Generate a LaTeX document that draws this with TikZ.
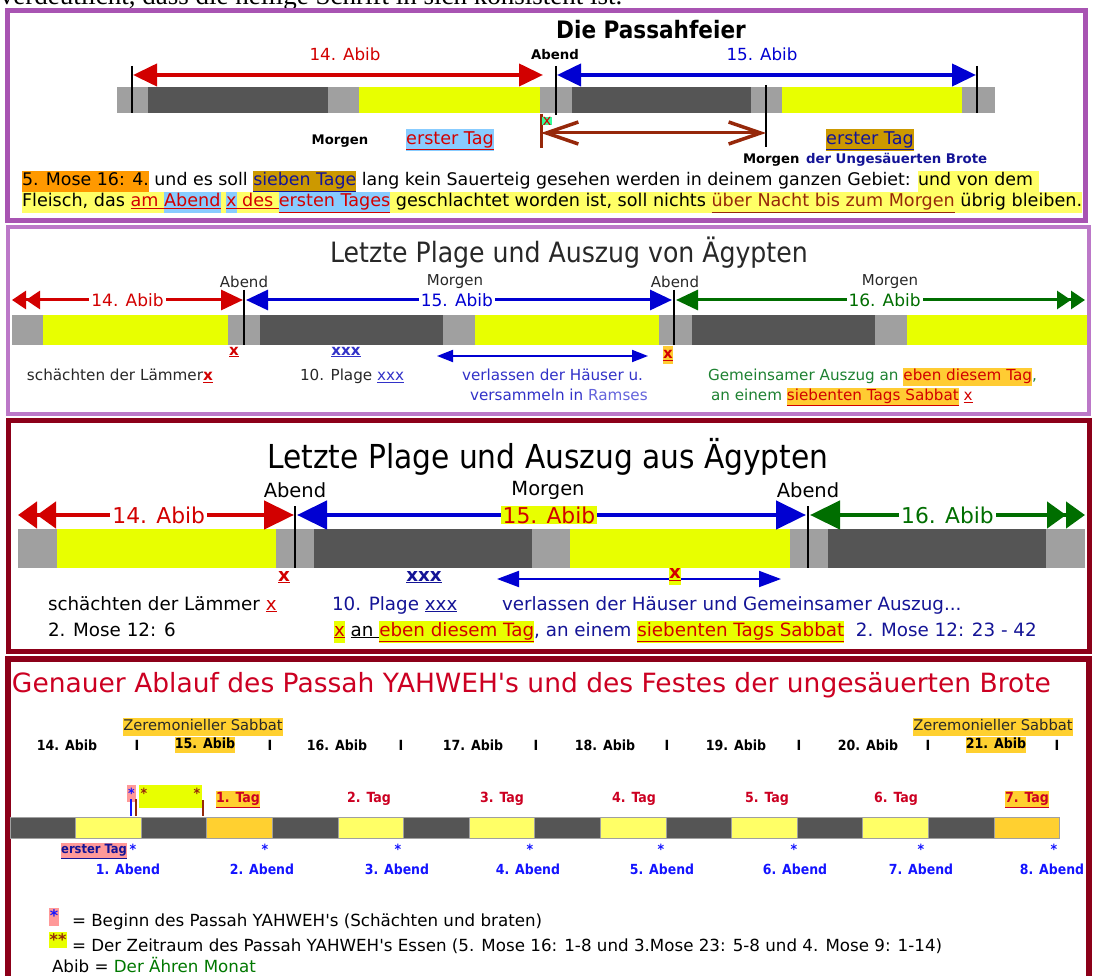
\documentclass[tikz,border=0pt]{standalone}
\usepackage{fontspec}
\setmainfont{DejaVu Sans}
\newfontfamily\condfont{DejaVu Sans Condensed}
\newfontfamily\seriffont{Liberation Serif}
\usetikzlibrary{arrows.meta}
\definecolor{purp}{RGB}{168,84,178}
\definecolor{purp2}{RGB}{188,120,200}
\definecolor{dred}{RGB}{140,0,25}
\definecolor{lgray}{RGB}{160,160,160}
\definecolor{dgray}{RGB}{85,85,85}
\definecolor{lime}{RGB}{232,255,0}
\definecolor{ared}{RGB}{210,0,0}
\definecolor{ablue}{RGB}{0,0,210}
\definecolor{agreen}{RGB}{0,110,0}
\definecolor{brownar}{RGB}{150,40,10}
\definecolor{hlorange}{RGB}{255,153,0}
\definecolor{hlorange2}{RGB}{255,204,51}
\definecolor{hlgold}{RGB}{204,153,0}
\definecolor{hlyellow}{RGB}{255,255,102}
\definecolor{hlblue}{RGB}{136,204,255}
\definecolor{hlgreen}{RGB}{51,255,153}
\definecolor{navy}{RGB}{20,20,150}
\definecolor{gold}{RGB}{255,208,48}
\definecolor{pinkbg}{RGB}{255,153,153}
\definecolor{titlered}{RGB}{204,0,34}
\definecolor{abendblue}{RGB}{20,20,255}
\definecolor{txtdark}{RGB}{40,40,40}
\definecolor{p2blue}{RGB}{50,50,200}
\definecolor{p2green}{RGB}{30,130,50}
\definecolor{ramses}{RGB}{100,100,220}
\definecolor{daygreen}{RGB}{0,120,0}
\newcommand\fsz[1]{\fontsize{#1}{\the\dimexpr #1pt*6/5\relax}\selectfont}
\newcommand\hbx[2]{{\setlength{\fboxsep}{0pt}\colorbox{#1}{#2\strut}}}
\newcommand\rul[1]{\underline{#1}}
\newcommand\aps{\textquotesingle}
\begin{document}
\begin{tikzpicture}[x=1pt,y=-1pt]
\useasboundingbox (0,0) rectangle (1093,976);
\tikzset{
  every node/.style={inner sep=0pt,outer sep=0pt},
  tick/.style={draw=black,line width=1.8pt},
  arone/.style={line width=4pt,{Triangle[length=24pt,width=22pt]}-{Triangle[length=24pt,width=22pt]}},
  artwoL/.style={line width=3pt,{Triangle[length=14pt,width=18pt]Triangle[length=14pt,width=18pt]}-{Triangle[length=22pt,width=20pt]}},
  artwoM/.style={line width=3pt,{Triangle[length=22pt,width=20pt]}-{Triangle[length=22pt,width=20pt]}},
  artwoR/.style={line width=3pt,{Triangle[length=22pt,width=20pt]}-{Triangle[length=14pt,width=18pt]Triangle[length=14pt,width=18pt]}},
  arthrL/.style={line width=4.5pt,{Triangle[length=19pt,width=26pt]Triangle[length=19pt,width=26pt]}-{Triangle[length=30pt,width=28pt]}},
  arthrM/.style={line width=4.5pt,{Triangle[length=30pt,width=28pt]}-{Triangle[length=30pt,width=28pt]}},
  arthrR/.style={line width=4.5pt,{Triangle[length=30pt,width=28pt]}-{Triangle[length=19pt,width=26pt]Triangle[length=19pt,width=26pt]}},
  smallar/.style={draw=ablue,line width=1.8pt,{Triangle[length=16pt,width=12pt]}-{Triangle[length=16pt,width=12pt]}},
  smallarB/.style={draw=ablue,line width=2pt,{Triangle[length=22pt,width=16pt]}-{Triangle[length=22pt,width=16pt]}},
  onlbl/.style={fill=white,inner xsep=2pt,inner ysep=1pt},
}
% surrounding page text (cut)
\node[anchor=base west,font=\seriffont\fsz{27}] (toptext) at (0,5) {verdeutlicht, dass die heilige Schrift in sich konsistent ist.};
% panel frames
\fill[white] (5,9) rectangle (1088,976);
\draw[purp,line width=5pt] (7.5,10.5) rectangle (1085.5,220.5);
\draw[purp2,line width=4pt] (8,227) rectangle (1089,414);
\draw[dred,line width=5pt] (8,420) rectangle (1089,651);
\draw[dred,line width=6pt] (8,659) rectangle (1089,990);

% ================= Panel 1 =================
\node[font=\condfont\bfseries\fsz{24}] (p1title) at (651,30) {Die Passahfeier};
\node[font=\fsz{16.7},text=ared] (p1d14) at (345,54) {14. Abib};
\node[font=\bfseries\fsz{13.3}] (p1abend) at (555,55) {Abend};
\node[font=\fsz{16.7},text=ablue] (p1d15) at (762,54) {15. Abib};
\foreach \a/\b/\c in {117/148/lgray,148/328/dgray,328/359/lgray,359/540/lime,540/572/lgray,572/751/dgray,751/782/lgray,782/962/lime,962/995/lgray}
  \fill[\c] (\a,87) rectangle (\b,113);
\coordinate (p1a) at (132,75); \coordinate (p1b) at (555,75); \coordinate (p1c) at (977,75);
\draw[tick] (132,66) -- (132,113);
\draw[tick] (556,66) -- (556,115);
\draw[tick] (977,66) -- (977,113);
\draw[tick] (766,85) -- (766,147);
\draw[arone,ared] ([xshift=1pt]p1a) -- ([xshift=-12pt]p1b);
\draw[arone,ablue] ([xshift=2pt]p1b) -- ([xshift=-1pt]p1c);
\coordinate (p1m1) at (541,133); \coordinate (p1m2) at (766,133);
\draw[brownar,line width=3pt] (541,114) -- (541,148);
\draw[brownar,line width=3pt,{Straight Barb[length=32pt,width=22pt,line width=3.5pt]}-{Straight Barb[length=32pt,width=22pt,line width=3.5pt]}] (p1m1) -- (p1m2);
\node[font=\fsz{15},text=ared,fill=hlgreen,inner xsep=1pt] (p1x) at (547,121) {x};
\node[font=\bfseries\fsz{13.2}] (p1morgen1) at (340,141) {Morgen};
\node[font=\fsz{17.6}] (p1erst1) at (450,140) {\hbx{hlblue}{\textcolor{ared}{\rul{erster Tag}}}};
\node[font=\fsz{17.6}] (p1erst2) at (870,140) {\hbx{hlgold}{\textcolor{navy}{\rul{erster Tag}}}};
\node[font=\bfseries\fsz{13.2},anchor=base west] (p1morgen2) at (743,164) {Morgen};
\node[font=\bfseries\fsz{13.3},text=navy,anchor=base west] (p1brote) at (806,164) {der Ungesäuerten Brote};
\node[anchor=base west,font=\fsz{17.4}] (p1l1) at (22,186) {\hbx{hlorange}{5. Mose 16: 4.} und es soll \hbx{hlgold}{\textcolor{navy}{\rul{sieben Tage}}} lang kein Sauerteig gesehen werden in deinem ganzen Gebiet: \hbx{hlyellow}{und von dem\ }};
\node[anchor=base west,font=\fsz{17.6}] (p1l2) at (22,207) {\hbx{hlyellow}{Fleisch, das \textcolor{ared}{\rul{am\ }}}\hbx{hlblue}{\textcolor{ared}{\rul{Abend}}}\hbx{hlyellow}{\ }\hbx{hlblue}{\textcolor{ared}{\rul{x}}}\hbx{hlyellow}{\textcolor{ared}{\rul{\ des\ }}}\hbx{hlblue}{\textcolor{ared}{\rul{ersten Tages}}}\hbx{hlyellow}{\ geschlachtet worden ist, soll nichts \textcolor{brownar}{\rul{über Nacht bis zum Morgen}} übrig bleiben.}};

% ================= Panel 2 =================
\node[font=\condfont\fsz{28},text=txtdark] (p2title) at (569,253) {Letzte Plage und Auszug von Ägypten};
\foreach \n/\x/\t in {a/244/Abend,b/455/Morgen,c/675/Abend,d/890/Morgen}
  \node[font=\fsz{15},text=txtdark] (p2lab\n) at (\x,282) {\t};
\foreach \a/\b/\c in {12/43/lgray,43/228/lime,228/260/lgray,260/443/dgray,443/475/lgray,475/659/lime,659/692/lgray,692/875/dgray,875/907/lgray,907/1087/lime}
  \fill[\c] (\a,315) rectangle (\b,345);
\coordinate (p2a) at (12,300); \coordinate (p2b) at (244,300); \coordinate (p2c) at (674,300); \coordinate (p2d) at (1085,300);
\draw[tick,line width=1.5pt] (244,290) -- (244,345);
\draw[tick,line width=1.5pt] (674,290) -- (674,345);
\draw[artwoL,ared] (p2a) -- node[onlbl,font=\fsz{17},text=ared,pos=0.5]{14. Abib} ([xshift=-1pt]p2b);
\draw[artwoM,ablue] ([xshift=2pt]p2b) -- node[onlbl,font=\fsz{17},text=ablue,pos=0.495]{15. Abib} ([xshift=-2pt]p2c);
\draw[artwoR,agreen] ([xshift=2pt]p2c) -- node[onlbl,font=\fsz{17},text=agreen,pos=0.51]{16. Abib} (p2d);
\node[font=\bfseries\fsz{15},text=ared] (p2x1) at (234,352) {\rul{x}};
\node[font=\bfseries\fsz{15},text=p2blue] (p2xxx) at (346,352) {\rul{xxx}};
\coordinate (p2s1) at (437,356); \coordinate (p2s2) at (648,356);
\draw[smallar] (p2s1) -- (p2s2);
\node[font=\bfseries\fsz{15}] (p2x2) at (668,355) {\hbx{hlorange2}{\textcolor{ared}{\rul{x}}}};
\node[anchor=base west,font=\fsz{15.2},text=txtdark] (p2t1) at (27,381) {schächten der Lämmer\textcolor{ared}{\rul{\bfseries x}}};
\node[anchor=base west,font=\fsz{15.2},text=txtdark] (p2t2) at (300,381) {10. Plage \textcolor{p2blue}{\rul{xxx}}};
\node[anchor=base west,font=\fsz{15.2},text=p2blue] (p2t3) at (462,381) {verlassen der Häuser u.};
\node[anchor=base west,font=\fsz{15.2},text=p2blue] (p2t4) at (470,401) {versammeln in \textcolor{ramses}{Ramses}};
\node[anchor=base west,font=\fsz{15.2},text=p2green] (p2t5) at (708,381) {Gemeinsamer Auszug an \hbx{hlorange2}{\textcolor{ared}{eben diesem Tag}},};
\node[anchor=base west,font=\fsz{15.2},text=p2green] (p2t6) at (711,401) {an einem \hbx{hlorange2}{\textcolor{ared}{\rul{siebenten Tags Sabbat}}} \textcolor{ared}{\rul{x}}};

% ================= Panel 3 =================
\node[font=\condfont\fsz{33}] (p3title) at (548,457) {Letzte Plage und Auszug aus Ägypten};
\foreach \n/\x/\t in {a/295/Abend,b/548/Morgen,c/808/Abend}
  \node[font=\fsz{19.5}] (p3lab\n) at (\x,490) {\t};
\foreach \a/\b/\c in {18/57/lgray,57/276/lime,276/314/lgray,314/532/dgray,532/570/lgray,570/790/lime,790/828/lgray,828/1046/dgray,1046/1085/lgray}
  \fill[\c] (\a,529) rectangle (\b,568);
\coordinate (p3a) at (18,515); \coordinate (p3b) at (295,515); \coordinate (p3c) at (808,515); \coordinate (p3d) at (1085,515);
\draw[tick,line width=2pt] (295,506) -- (295,568);
\draw[tick,line width=2pt] (808,506) -- (808,568);
\draw[arthrL,ared] (p3a) -- node[onlbl,font=\fsz{21.8},text=ared,pos=0.51]{14. Abib} ([xshift=-1pt]p3b);
\draw[arthrM,ablue] ([xshift=2pt]p3b) -- node[onlbl,fill=lime,font=\fsz{21.8},text=ared,pos=0.495]{15. Abib} ([xshift=-2pt]p3c);
\draw[arthrR,agreen] ([xshift=2pt]p3c) -- node[onlbl,font=\fsz{21.8},text=agreen,pos=0.5]{16. Abib} (p3d);
\node[font=\bfseries\fsz{18.3},text=ared] (p3x1) at (284,577) {\rul{x}};
\node[font=\bfseries\fsz{18.3},text=navy] (p3xxx) at (424,577) {\rul{xxx}};
\coordinate (p3s1) at (497,579); \coordinate (p3s2) at (781,579);
\draw[smallarB] (p3s1) -- (p3s2);
\node[font=\bfseries\fsz{18.3}] (p3x2) at (675,574) {\hbx{lime}{\textcolor{ared}{\rul{x}}}};
\node[anchor=base west,font=\fsz{18.3}] (p3t1) at (48,610) {schächten der Lämmer \textcolor{ared}{\rul{x}}};
\node[anchor=base west,font=\fsz{18.3},text=navy] (p3t2) at (332,610) {10. Plage \rul{xxx}};
\node[anchor=base west,font=\fsz{18.3},text=navy] (p3t3) at (502,610) {verlassen der Häuser und Gemeinsamer Auszug...};
\node[anchor=base west,font=\fsz{18.3}] (p3t4) at (48,636) {2. Mose 12: 6};
\node[anchor=base west,font=\fsz{18.3},text=navy] (p3t5) at (334,636) {\hbx{lime}{\textcolor{ared}{\rul{x}}} \textcolor{black}{\rul{an\ }}\hbx{lime}{\textcolor{ared}{\rul{eben diesem Tag}}}, an einem \hbx{lime}{\textcolor{ared}{\rul{siebenten Tags Sabbat}}}\ \ 2. Mose 12: 23 - 42};

% ================= Panel 4 =================
\node[anchor=west,font=\fsz{26.5},text=titlered] (p4title) at (12,685) {Genauer Ablauf des Passah YAHWEH\aps s und des Festes der ungesäuerten Brote};
\node[font=\fsz{14.7}] (p4zs1) at (203,727) {\hbx{gold}{\textcolor{txtdark}{Zeremonieller Sabbat}}};
\node[font=\fsz{14.7}] (p4zs2) at (993,727) {\hbx{gold}{\textcolor{txtdark}{Zeremonieller Sabbat}}};
\foreach \n/\x in {14/67,16/337,17/473,18/605,19/736,20/868}
  \node[font=\condfont\bfseries\fsz{14}] (p4d\n) at (\x,745) {\n. Abib};
\foreach \n/\x in {15/205,21/996}
  \node[font=\condfont\bfseries\fsz{14}] (p4d\n) at (\x,745) {\hbx{gold}{\n. Abib}};
\foreach \i/\x in {1/137,2/270,3/401,4/536,5/667,6/799,7/928,8/1057}
  \node[font=\condfont\bfseries\fsz{14}] (p4sep\i) at (\x,745) {I};
% day bar
\foreach \i/\c in {0/dgray,1/hlyellow,2/dgray,3/gold,4/dgray,5/hlyellow,6/dgray,7/hlyellow,8/dgray,9/hlyellow,10/dgray,11/hlyellow,12/dgray,13/hlyellow,14/dgray,15/gold}
  \fill[\c,draw=lgray,line width=0.8pt] ({10+65.6*\i},817) rectangle ({10+65.6*(\i+1)},838);
\foreach \n/\x in {2/369,3/502,4/634,5/767,6/896}
  \node[font=\condfont\bfseries\fsz{14},text=titlered] (p4tag\n) at (\x,799) {\n. Tag};
\node[font=\condfont\bfseries\fsz{14}] (p4tag1) at (238,799) {\hbx{gold}{\textcolor{titlered}{\rul{1. Tag}}}};
\node[font=\condfont\bfseries\fsz{14}] (p4tag7) at (1027,799) {\hbx{gold}{\textcolor{titlered}{\rul{7. Tag}}}};
% passah markers
\fill[pinkbg] (127,785) rectangle (136,802);
\fill[lime] (139,785) rectangle (202,808);
\node[font=\condfont\bfseries\fsz{14},text=abendblue] (p4ms) at (131.5,793) {*};
\node[font=\condfont\bfseries\fsz{14},text=brownar] (p4m1) at (144,793) {*};
\node[font=\condfont\bfseries\fsz{14},text=brownar] (p4m2) at (197,793) {*};
\draw[abendblue,line width=1.3pt] (131,799) -- (131,816);
\draw[brownar,line width=1.3pt] (136,799) -- (136,816);
\draw[brownar,line width=1.3pt] (203,800) -- (203,816);
\node[font=\condfont\bfseries\fsz{12.8}] (p4erst) at (94,851) {\hbx{pinkbg}{\textcolor{navy}{\rul{erster Tag}}}};
\foreach \i/\x in {1/133,2/265,3/398,4/530,5/661,6/794,7/921,8/1054}
  \node[font=\condfont\bfseries\fsz{14},text=abendblue] (p4st\i) at (\x,849) {*};
\foreach \i/\x in {1/128,2/262,3/397,4/528,5/662,6/795,7/921,8/1052}
  \node[font=\condfont\bfseries\fsz{13.9},text=abendblue] (p4ab\i) at (\x,869) {\i. Abend};
% legend
\fill[pinkbg] (49,908) rectangle (59,926);
\node[font=\bfseries\fsz{16},text=abendblue] (p4lst) at (54,916) {*};
\node[anchor=base west,font=\fsz{16.7}] (p4l1) at (72,926) {= Beginn des Passah YAHWEH\aps s (Schächten und braten)};
\fill[lime] (49,932) rectangle (67,948);
\node[font=\bfseries\fsz{16},text=brownar] (p4lst2) at (58,940) {**};
\node[anchor=base west,font=\fsz{16.7}] (p4l2) at (72,951) {= Der Zeitraum des Passah YAHWEH\aps s Essen (5. Mose 16: 1-8 und 3.Mose 23: 5-8 und 4. Mose 9: 1-14)};
\node[anchor=base west,font=\fsz{16.7}] (p4l3) at (52,972) {Abib = \textcolor{daygreen}{Der Ähren Monat}};
\end{tikzpicture}
\end{document}
